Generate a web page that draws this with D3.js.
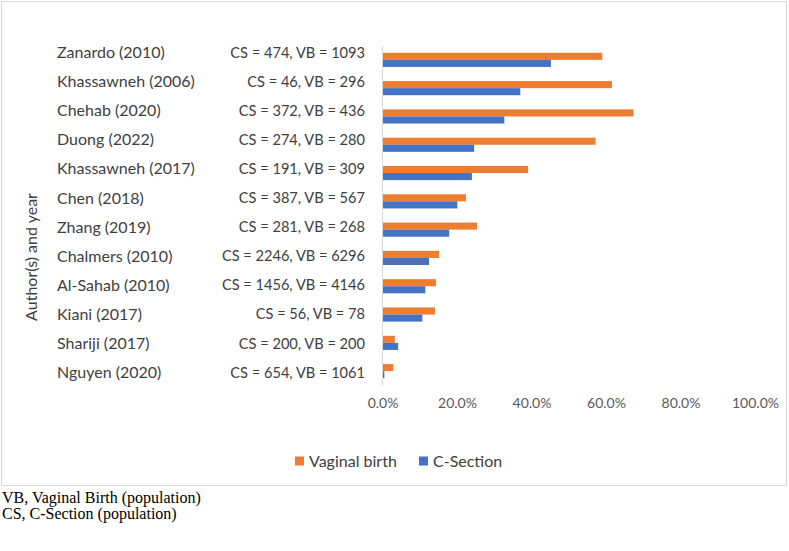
<!DOCTYPE html>
<html>
<head>
<meta charset="utf-8">
<script src="https://cdn.jsdelivr.net/npm/d3@7"></script>
<style>
  body { margin: 0; background: #fff; }
  svg { display: block; }
</style>
</head>
<body>
<svg id="chart" width="789" height="551"></svg>
<script>
// studies, top to bottom
var studies = ["Zanardo (2010)", "Khassawneh (2006)", "Chehab (2020)", "Duong (2022)",
  "Khassawneh (2017)", "Chen (2018)", "Zhang (2019)", "Chalmers (2010)",
  "Al-Sahab (2010)", "Kiani (2017)", "Shariji (2017)", "Nguyen (2020)"];
var populations = ["CS = 474, VB = 1093", "CS = 46, VB = 296", "CS = 372, VB = 436",
  "CS = 274, VB = 280", "CS = 191, VB = 309", "CS = 387, VB = 567", "CS = 281, VB = 268",
  "CS = 2246, VB = 6296", "CS = 1456, VB = 4146", "CS = 56, VB = 78", "CS = 200, VB = 200",
  "CS = 654, VB = 1061"];
// percentages
var vaginalBirth = [59.0, 61.6, 67.4, 57.2, 39.1, 22.4, 25.4, 15.2, 14.4, 14.1, 3.3, 2.9];
var cSection = [45.2, 37.0, 32.7, 24.6, 24.0, 20.1, 17.9, 12.5, 11.5, 10.7, 4.2, 0.5];
var xTicks = [0, 20, 40, 60, 80, 100];
var seriesNames = ["Vaginal birth", "C-Section"];
var seriesColors = ["#ED7D31", "#4472C4"];

var font = "Lato, 'Open Sans', sans-serif";
var svg = d3.select("#chart");

// chart frame
svg.append("rect")
  .attr("x", 1.5).attr("y", 1.5)
  .attr("width", 785).attr("height", 484)
  .attr("fill", "#fff").attr("stroke", "#d9d9d9");

var x = d3.scaleLinear().domain([0, 100]).range([382.5, 755]);
var y = d3.scaleBand().domain(studies).range([45.7, 385.3]);
var ySub = d3.scaleBand().domain(seriesNames)
  .range([y.bandwidth() / 4, y.bandwidth() * 3 / 4]);

var rows = studies.map(function(s, i){
  return {name: s, values: [vaginalBirth[i], cSection[i]]};
});

var groups = svg.selectAll("g.row")
  .data(rows)
  .enter().append("g")
  .attr("class", "row")
  .attr("transform", function(d){ return "translate(0," + y(d.name) + ")"; });

groups.selectAll("rect")
  .data(function(d){ return d.values.map(function(v, j){ return {s: seriesNames[j], v: v, c: seriesColors[j]}; }); })
  .enter().append("rect")
  .attr("x", x(0))
  .attr("y", function(d){ return ySub(d.s); })
  .attr("width", function(d){ return x(d.v) - x(0); })
  .attr("height", ySub.bandwidth())
  .attr("fill", function(d){ return d.c; });

// vertical axis line
svg.append("line")
  .attr("x1", x(0)).attr("x2", x(0))
  .attr("y1", 45.7).attr("y2", 385.3)
  .attr("stroke", "#d9d9d9").attr("stroke-width", 1);

// x tick labels
var xAxis = d3.axisBottom(x).tickValues(xTicks)
  .tickSize(0).tickPadding(0)
  .tickFormat(function(d){ return d.toFixed(1) + "%"; });
var gx = svg.append("g").attr("transform", "translate(0,398)").call(xAxis);
gx.select(".domain").remove();
gx.selectAll("text")
  .attr("font-family", font).attr("font-size", 14).attr("fill", "#595959");

// label text box (study names + population)
var labelY = d3.scalePoint().domain(studies).range([52.5, 372.5]);
svg.selectAll("text.study")
  .data(studies)
  .enter().append("text")
  .attr("class", "study")
  .attr("x", 57)
  .attr("y", function(d){ return labelY(d); })
  .attr("dy", "0.35em")
  .attr("font-family", font).attr("font-size", 16).attr("fill", "#404040")
  .text(function(d){ return d; });

svg.selectAll("text.pop")
  .data(populations)
  .enter().append("text")
  .attr("class", "pop")
  .attr("x", 365)
  .attr("y", function(d, i){ return labelY(studies[i]); })
  .attr("dy", "0.35em")
  .attr("text-anchor", "end")
  .attr("font-family", font).attr("font-size", 14.6).attr("fill", "#404040")
  .text(function(d){ return d; });

// axis title
svg.append("text")
  .attr("transform", "translate(31,257) rotate(-90)")
  .attr("text-anchor", "middle")
  .attr("dy", "0.35em")
  .attr("font-family", font).attr("font-size", 16).attr("fill", "#404040")
  .text("Author(s) and year");

// legend
var legendX = [295, 419];
var legend = svg.selectAll("g.legend")
  .data(seriesNames)
  .enter().append("g")
  .attr("class", "legend")
  .attr("transform", function(d, i){ return "translate(" + legendX[i] + ",461)"; });
legend.append("rect")
  .attr("x", 0).attr("y", -4.5).attr("width", 9).attr("height", 9)
  .attr("fill", function(d, i){ return seriesColors[i]; });
legend.append("text")
  .attr("x", 14).attr("dy", "0.35em")
  .attr("font-family", font).attr("font-size", 16).attr("fill", "#404040")
  .text(function(d){ return d; });

// footnotes
var notes = ["VB, Vaginal Birth (population)", "CS, C-Section (population)"];
svg.selectAll("text.note")
  .data(notes)
  .enter().append("text")
  .attr("class", "note")
  .attr("x", 2)
  .attr("y", function(d, i){ return 503 + i * 16; })
  .attr("font-family", "'Liberation Serif', 'Times New Roman', serif")
  .attr("font-size", 16).attr("fill", "#000")
  .text(function(d){ return d; });
</script>
</body>
</html>
